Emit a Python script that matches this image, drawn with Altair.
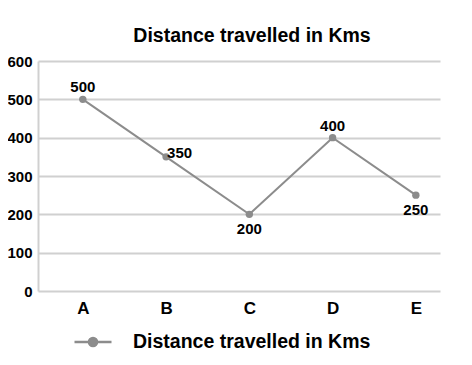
import altair as alt
import pandas as pd

categories = ["A", "B", "C", "D", "E"]
values = [500, 350, 200, 400, 250]
series_name = "Distance travelled in Kms"
y_ticks = [0, 100, 200, 300, 400, 500, 600]

df = pd.DataFrame({"cat": categories, "val": values, "series": [series_name] * len(categories)})

FONT = "Liberation Sans"
GRAY = "#8c8c8c"
GRID = "#d0d0d0"

x = alt.X("cat:N", sort=categories, title=None,
          scale=alt.Scale(type="point", padding=0.414, align=0.65),
          axis=alt.Axis(labelAngle=0, labelFont=FONT, labelFontSize=17, labelFontWeight="bold",
                        labelColor="#000", ticks=False, domain=False, labelPadding=9, grid=False))
y = alt.Y("val:Q", title=None,
          scale=alt.Scale(domain=[0, 600], nice=False),
          axis=alt.Axis(values=y_ticks, labelFont=FONT, labelFontSize=15, labelFontWeight="bold",
                        labelColor="#000", ticks=False, domain=True, domainColor=GRID,
                        domainWidth=2, labelPadding=6, gridColor=GRID, gridWidth=2))

color = alt.Color("series:N", title=None,
                  scale=alt.Scale(range=[GRAY]),
                  legend=alt.Legend(orient="none", legendX=35, legendY=261,
                                    symbolType="M-1,0L-0.22,0M0.22,0L1,0M-0.22,0A0.22,0.22 0 1,0 0.22,0A0.22,0.22 0 1,0 -0.22,0",
                                    symbolSize=1369, symbolStrokeWidth=2.5, symbolFillColor=GRAY,
                                    symbolStrokeColor=GRAY, labelFont=FONT, labelFontSize=19.5,
                                    labelFontWeight="bold", labelColor="#000", labelOffset=20,
                                    labelLimit=400))

base = alt.Chart(df)
line = base.mark_line(strokeWidth=2).encode(x=x, y=y, color=color)
pts = base.mark_circle(size=55, opacity=1).encode(x=x, y=y, color=color)

def lab(cats, **kw):
    return base.transform_filter(alt.FieldOneOfPredicate(field="cat", oneOf=cats)).mark_text(
        font=FONT, fontSize=15, fontWeight="bold", color="#000", **kw
    ).encode(x=x, y=y, text="val:Q")

above = lab(["A", "D"], baseline="bottom", dy=-4)
right = lab(["B"], align="left", baseline="middle", dx=1, dy=-4)
below = lab(["C", "E"], baseline="top", dy=8)

chart = alt.layer(line, pts, above, right, below).properties(
    width=402, height=230,
    autosize=alt.AutoSizeParams(type="none"),
    padding={"left": 30, "top": 53, "right": 24, "bottom": 74},
    title=alt.TitleParams(series_name, font=FONT, fontSize=19.5, fontWeight="bold", color="#000",
                          dx=13, offset=8, anchor="middle"),
).configure_view(stroke=None)

chart.save("out.html", embed_options={"renderer": "svg", "actions": False})
